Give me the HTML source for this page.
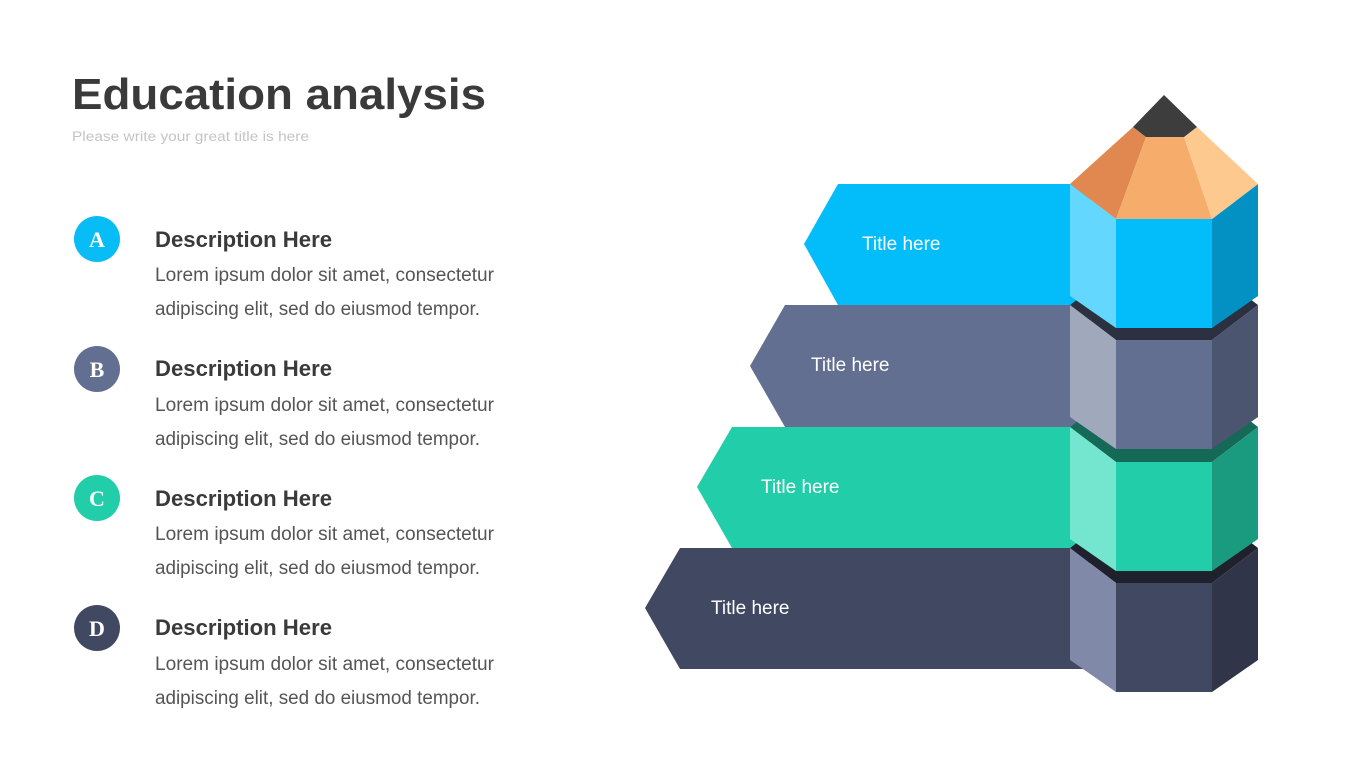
<!DOCTYPE html>
<html><head><meta charset="utf-8"><style>
html,body{margin:0;padding:0;background:#fff;width:1365px;height:768px;overflow:hidden}
svg{display:block}
text{font-family:"Liberation Sans",sans-serif}
text.serif{font-family:"Liberation Serif",serif}
</style></head><body>
<svg width="1365" height="768" viewBox="0 0 1365 768" xmlns="http://www.w3.org/2000/svg">
<text x="72" y="109" font-size="44" font-weight="bold" fill="#3a3a3a" textLength="414" lengthAdjust="spacingAndGlyphs">Education analysis</text>
<text x="72" y="141" font-size="14" fill="#c4c4c4" textLength="237" lengthAdjust="spacingAndGlyphs">Please write your great title is here</text>

<g font-weight="bold" font-size="22" fill="#fff" text-anchor="middle">
<circle cx="97" cy="239" r="23" fill="#08bdf6"/><text class="serif" x="97" y="247" style="font-family:'Liberation Serif',serif">A</text>
<circle cx="97" cy="369" r="23" fill="#626f90"/><text class="serif" x="97" y="377" style="font-family:'Liberation Serif',serif">B</text>
<circle cx="97" cy="498" r="23" fill="#22cdaa"/><text class="serif" x="97" y="506" style="font-family:'Liberation Serif',serif">C</text>
<circle cx="97" cy="628" r="23" fill="#414862"/><text class="serif" x="97" y="636" style="font-family:'Liberation Serif',serif">D</text>
</g>
<g fill="#3a3a3a">
<text x="155" y="247" font-size="22" font-weight="bold" textLength="177" lengthAdjust="spacingAndGlyphs">Description Here</text>
<text x="155" y="281" font-size="19" fill="#555" textLength="339" lengthAdjust="spacingAndGlyphs">Lorem ipsum dolor sit amet, consectetur</text>
<text x="155" y="315" font-size="19" fill="#555" textLength="325" lengthAdjust="spacingAndGlyphs">adipiscing elit, sed do eiusmod tempor.</text>
<text x="155" y="376" font-size="22" font-weight="bold" textLength="177" lengthAdjust="spacingAndGlyphs">Description Here</text>
<text x="155" y="411" font-size="19" fill="#555" textLength="339" lengthAdjust="spacingAndGlyphs">Lorem ipsum dolor sit amet, consectetur</text>
<text x="155" y="445" font-size="19" fill="#555" textLength="325" lengthAdjust="spacingAndGlyphs">adipiscing elit, sed do eiusmod tempor.</text>
<text x="155" y="506" font-size="22" font-weight="bold" textLength="177" lengthAdjust="spacingAndGlyphs">Description Here</text>
<text x="155" y="540" font-size="19" fill="#555" textLength="339" lengthAdjust="spacingAndGlyphs">Lorem ipsum dolor sit amet, consectetur</text>
<text x="155" y="574" font-size="19" fill="#555" textLength="325" lengthAdjust="spacingAndGlyphs">adipiscing elit, sed do eiusmod tempor.</text>
<text x="155" y="635" font-size="22" font-weight="bold" textLength="177" lengthAdjust="spacingAndGlyphs">Description Here</text>
<text x="155" y="670" font-size="19" fill="#555" textLength="339" lengthAdjust="spacingAndGlyphs">Lorem ipsum dolor sit amet, consectetur</text>
<text x="155" y="704" font-size="19" fill="#555" textLength="325" lengthAdjust="spacingAndGlyphs">adipiscing elit, sed do eiusmod tempor.</text>
</g>

<polygon points="680,548 1090,548 1090,669 680,669 645,608" fill="#414862"/>
<polygon points="732,427 1090,427 1090,548 732,548 697,487" fill="#22cdaa"/>
<polygon points="785,305 1090,305 1090,427 785,427 750,366" fill="#626f90"/>
<polygon points="838,184 1090,184 1090,305 838,305 804,244" fill="#02bdf9"/>
<g fill="#fff" font-size="19">
<text x="862" y="250">Title here</text>
<text x="811" y="371">Title here</text>
<text x="761" y="493">Title here</text>
<text x="711" y="614">Title here</text>
</g>

<g>
<polygon points="1070,548 1116,513 1212,513 1258,548 1212,583 1116,583" fill="#1f222d"/>
<polygon points="1070,548 1116,583 1116,692 1070,660" fill="#8089a8"/>
<polygon points="1116,583 1212,583 1212,692 1116,692" fill="#414862"/>
<polygon points="1212,583 1258,548 1258,660 1212,692" fill="#30354a"/>

<polygon points="1070,427 1116,392 1212,392 1258,427 1212,462 1116,462" fill="#146a56"/>
<polygon points="1070,427 1116,462 1116,571 1070,539" fill="#74e6d0"/>
<polygon points="1116,462 1212,462 1212,571 1116,571" fill="#22cdaa"/>
<polygon points="1212,462 1258,427 1258,539 1212,571" fill="#1a9b7f"/>

<polygon points="1070,305 1116,270 1212,270 1258,305 1212,340 1116,340" fill="#2c3142"/>
<polygon points="1070,305 1116,340 1116,449 1070,417" fill="#a0a8bc"/>
<polygon points="1116,340 1212,340 1212,449 1116,449" fill="#626f90"/>
<polygon points="1212,340 1258,305 1258,417 1212,449" fill="#4b5570"/>

<polygon points="1070,184 1116,219 1116,328 1070,296" fill="#63d7fd"/>
<polygon points="1116,219 1212,219 1212,328 1116,328" fill="#02bdf9"/>
<polygon points="1212,219 1258,184 1258,296 1212,328" fill="#0391c4"/>

<polygon points="1070,184 1133,127 1146,137 1116,219" fill="#e0884f"/>
<polygon points="1146,137 1184,137 1212,219 1116,219" fill="#f6ad6b"/>
<polygon points="1184,137 1197,127 1258,184 1212,219" fill="#fdc98e"/>
<polygon points="1164,95 1133,127 1146,137 1184,137 1197,127" fill="#3d3d3d"/>
</g>
</svg>
</body></html>
